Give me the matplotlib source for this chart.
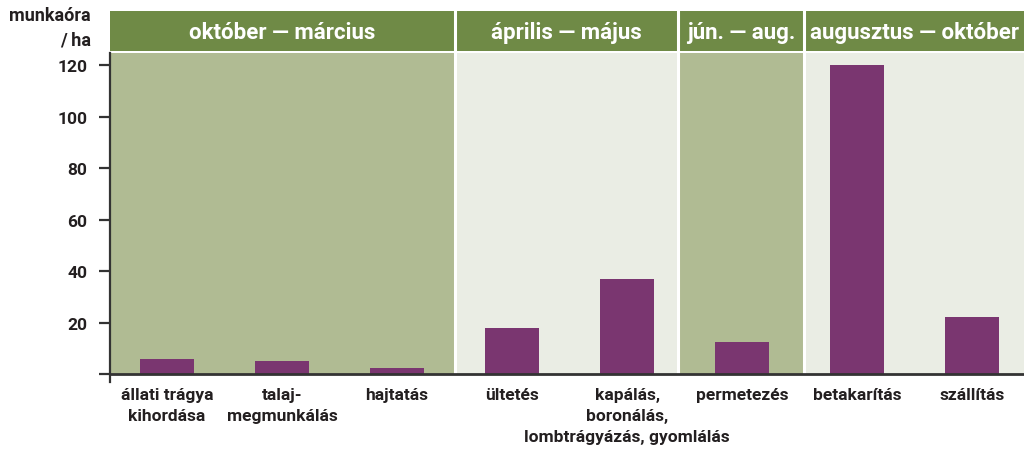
import matplotlib
matplotlib.use("Agg")
import matplotlib.pyplot as plt
from matplotlib.patches import Rectangle

categories = ["állati trágya\nkihordása", "talaj-\nmegmunkálás", "hajtatás", "ültetés",
              "kapálás,\nboronálás,\nlombtrágyázás, gyomlálás", "permetezés", "betakarítás", "szállítás"]
values = [6, 5, 2.3, 18, 37, 12.5, 120, 22]
periods = ["október — március", "április — május", "jún. — aug.", "augusztus — október"]
period_bounds = [0, 3, 4.94, 6.04, 7.95]
period_dark = [True, False, True, False]
yticks = [0, 20, 40, 60, 80, 100, 120]
ytick_labels = ["", "20", "40", "60", "80", "100", "120"]
ylabel = "munkaóra\n/ ha"

plt.rcParams['font.family'] = ['Roboto', 'DejaVu Sans']
plt.rcParams['font.weight'] = 'bold'

GREEN = "#6f8a46"
DARK = "#b0bb93"
LIGHT = "#eaede4"
PURPLE = "#7a3670"
TEXT = "#231f20"
AXC = "#333333"
LFS = 12.5
LSP = 1.5

W, H = 1024, 452
fig = plt.figure(figsize=(W / 100, H / 100), dpi=100)

left = 109.5 / W
ax = fig.add_axes([left, (H - 383) / H, 1 - left, (383 - 54) / H])
xmax = period_bounds[-1]
ax.set_xlim(0, xmax)
ax.set_ylim(-3.1, 124.7)

for i in range(len(periods)):
    x0, x1 = period_bounds[i], period_bounds[i + 1]
    ax.add_patch(Rectangle((x0, 0), x1 - x0, 130, facecolor=DARK if period_dark[i] else LIGHT,
                           edgecolor="none", zorder=0))
for b in period_bounds[1:-1]:
    ax.axvline(b, color="white", lw=2.2, zorder=1)

xs = [i + 0.5 for i in range(len(values))]
ax.bar(xs, values, width=0.47, color=PURPLE, zorder=2)

for s in ["top", "right"]:
    ax.spines[s].set_visible(False)
ax.spines["bottom"].set_position(("data", 0))
ax.spines["bottom"].set_color(AXC)
ax.spines["bottom"].set_linewidth(2)
ax.spines["bottom"].set_zorder(3)
ax.spines["left"].set_color(AXC)
ax.spines["left"].set_linewidth(1.6)

ax.set_yticks(yticks)
ax.set_yticklabels(ytick_labels)
ax.tick_params(axis="y", direction="out", length=8, width=1.6, color=AXC, pad=8,
               labelsize=12.5, labelcolor=TEXT)

# long labels: the last line of a 3-line label is drawn as its own text below
tick_texts, extra = [], {}
for i, c in enumerate(categories):
    lines = c.split("\n")
    if len(lines) > 2:
        tick_texts.append("\n".join(lines[:-1]))
        extra[i] = lines[-1]
    else:
        tick_texts.append(c)
ax.set_xticks(xs)
ax.set_xticklabels(tick_texts, fontsize=LFS, color=TEXT, linespacing=LSP)
ax.tick_params(axis="x", length=0, pad=9)

# header band
hax = fig.add_axes([left, (H - 52) / H, 1 - left, 40 / H])
hax.set_xlim(0, xmax)
hax.set_ylim(0, 1)
hax.axis("off")
hax.add_patch(Rectangle((0, 0), xmax, 1, facecolor=GREEN, edgecolor="none"))
for b in period_bounds[1:-1]:
    hax.axvline(b, color="white", lw=2.2)
for i, p in enumerate(periods):
    x0, x1 = period_bounds[i], period_bounds[i + 1]
    hax.text((x0 + x1) / 2, 0.47, p, ha="center", va="center", color="white",
             fontsize=16, fontweight="bold")

fig.text(91 / W, 1 - 7 / H, ylabel, ha="right", va="top", fontsize=13,
         color=TEXT, linespacing=1.45, fontweight="bold")

fig.canvas.draw()
r = fig.canvas.get_renderer()
labs = ax.get_xticklabels()
h1 = labs[2].get_window_extent(r).height
h2 = labs[0].get_window_extent(r).height
pitch = h2 - h1
for i, t in extra.items():
    bb = labs[i].get_window_extent(r)
    n = len(tick_texts[i].split("\n"))
    xd = ax.transData.transform((xs[i], 0))[0]
    fig.text(xd / W, (bb.y1 - n * pitch) / H, t, ha="center", va="top",
             fontsize=LFS, color=TEXT, fontweight="bold")

fig.savefig("out.png", dpi=100, facecolor="white")
